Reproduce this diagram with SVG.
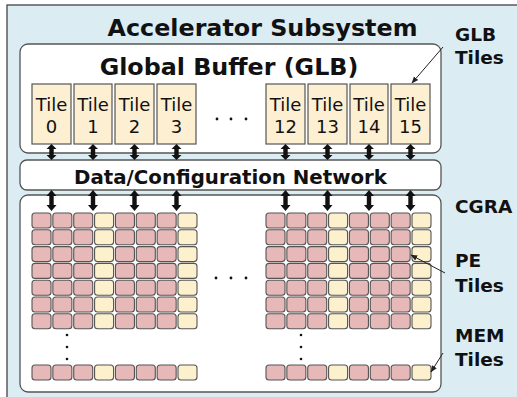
<svg xmlns="http://www.w3.org/2000/svg" width="517" height="397" viewBox="0 0 517 397">
<style>
.box{fill:#ffffff;stroke:#555;stroke-width:1.3}
.tile{fill:#fcefd2;stroke:#555;stroke-width:1.2}
.pe{fill:#e6b8b7;stroke:#555;stroke-width:1.1}
.mem{fill:#fdf0cd;stroke:#555;stroke-width:1.1}
.tt{font-family:"DejaVu Sans",Verdana,sans-serif;font-size:18px;fill:#111;text-anchor:middle}
.b{font-family:"DejaVu Sans",Verdana,sans-serif;font-weight:bold;fill:#111}
.lbl{font-family:"DejaVu Sans",Verdana,sans-serif;font-weight:bold;font-size:18.5px;fill:#111}
.dot{fill:#111}
.thin{stroke:#222;stroke-width:1;fill:none;marker-end:url(#ah)}
</style>
<defs>
<marker id="ah" viewBox="0 0 10 10" refX="9" refY="5" markerWidth="7" markerHeight="7" orient="auto" markerUnits="userSpaceOnUse">
<path d="M0,1 L10,5 L0,9 z" fill="#222"/>
</marker>
<path id="arrA" d="M0,0 L5,5 L2.2,5 L2.2,11 L5,11 L0,16 L-5,11 L-2.2,11 L-2.2,5 L-5,5 z" fill="#111"/>
<path id="arrB" d="M0,0 L5,6 L2.2,6 L2.2,15 L5,15 L0,21 L-5,15 L-2.2,15 L-2.2,6 L-5,6 z" fill="#111"/>
<g id="pecol">
<rect class="pe" x="0" y="213" width="19" height="15" rx="3"/>
<rect class="pe" x="0" y="229.8" width="19" height="15" rx="3"/>
<rect class="pe" x="0" y="246.6" width="19" height="15" rx="3"/>
<rect class="pe" x="0" y="263.4" width="19" height="15" rx="3"/>
<rect class="pe" x="0" y="280.2" width="19" height="15" rx="3"/>
<rect class="pe" x="0" y="297" width="19" height="15" rx="3"/>
<rect class="pe" x="0" y="313.8" width="19" height="15" rx="3"/>
<rect class="pe" x="0" y="365" width="19" height="15" rx="3"/>
</g>
<g id="memcol">
<rect class="mem" x="0" y="213" width="19" height="15" rx="3"/>
<rect class="mem" x="0" y="229.8" width="19" height="15" rx="3"/>
<rect class="mem" x="0" y="246.6" width="19" height="15" rx="3"/>
<rect class="mem" x="0" y="263.4" width="19" height="15" rx="3"/>
<rect class="mem" x="0" y="280.2" width="19" height="15" rx="3"/>
<rect class="mem" x="0" y="297" width="19" height="15" rx="3"/>
<rect class="mem" x="0" y="313.8" width="19" height="15" rx="3"/>
<rect class="mem" x="0" y="365" width="19" height="15" rx="3"/>
</g>
<g id="block">
<use href="#pecol" x="0"/>
<use href="#pecol" x="20.86"/>
<use href="#pecol" x="41.72"/>
<use href="#memcol" x="62.58"/>
<use href="#pecol" x="83.44"/>
<use href="#pecol" x="104.3"/>
<use href="#pecol" x="125.16"/>
<use href="#memcol" x="146"/>
</g>
</defs>

<g id="subsystem">
<rect x="7" y="5" width="530" height="410" fill="#dbecf3" stroke="#444" stroke-width="1.3"/>
<text class="b" x="262.5" y="36" font-size="23.8" text-anchor="middle">Accelerator Subsystem</text>
</g>

<g id="glb">
<rect class="box" x="20" y="44" width="421" height="109" rx="8"/>
<text class="b" x="229" y="75" font-size="23.8" text-anchor="middle">Global Buffer (GLB)</text>
<circle class="dot" cx="217" cy="119" r="1.4"/>
<circle class="dot" cx="231" cy="119" r="1.4"/>
<circle class="dot" cx="246" cy="119" r="1.4"/>
</g>

<g id="tile0"><rect class="tile" x="32" y="84" width="39" height="60"/><text class="tt" x="51.5" y="111">Tile</text><text class="tt" x="51.5" y="133">0</text></g>
<g id="tile1"><rect class="tile" x="74" y="84" width="38" height="60"/><text class="tt" x="93" y="111">Tile</text><text class="tt" x="93" y="133">1</text></g>
<g id="tile2"><rect class="tile" x="115" y="84" width="39" height="60"/><text class="tt" x="134.5" y="111">Tile</text><text class="tt" x="134.5" y="133">2</text></g>
<g id="tile3"><rect class="tile" x="157" y="84" width="39" height="60"/><text class="tt" x="176.5" y="111">Tile</text><text class="tt" x="176.5" y="133">3</text></g>
<g id="tile12"><rect class="tile" x="266" y="84" width="39" height="60"/><text class="tt" x="285.5" y="111">Tile</text><text class="tt" x="285.5" y="133">12</text></g>
<g id="tile13"><rect class="tile" x="308" y="84" width="39" height="60"/><text class="tt" x="327.5" y="111">Tile</text><text class="tt" x="327.5" y="133">13</text></g>
<g id="tile14"><rect class="tile" x="350" y="84" width="38" height="60"/><text class="tt" x="369" y="111">Tile</text><text class="tt" x="369" y="133">14</text></g>
<g id="tile15"><rect class="tile" x="391" y="84" width="39" height="60"/><text class="tt" x="410.5" y="111">Tile</text><text class="tt" x="410.5" y="133">15</text></g>

<g id="network">
<rect class="box" x="20" y="160" width="421" height="30" rx="7"/>
<text class="b" x="230.5" y="184" font-size="19.8" text-anchor="middle">Data/Configuration Network</text>
</g>

<g id="cgra">
<rect class="box" x="20" y="195" width="421" height="197" rx="8"/>
<use href="#block" x="32"/>
<use href="#block" x="266"/>
<circle class="dot" cx="216" cy="278" r="1.4"/>
<circle class="dot" cx="231" cy="278" r="1.4"/>
<circle class="dot" cx="246" cy="278" r="1.4"/>
<circle class="dot" cx="67" cy="335" r="1.3"/>
<circle class="dot" cx="67" cy="347" r="1.3"/>
<circle class="dot" cx="67" cy="359" r="1.3"/>
<circle class="dot" cx="301" cy="335" r="1.3"/>
<circle class="dot" cx="301" cy="347" r="1.3"/>
<circle class="dot" cx="301" cy="359" r="1.3"/>
</g>

<g id="labels">
<text class="lbl" x="455" y="41">GLB</text>
<text class="lbl" x="455" y="64">Tiles</text>
<text class="lbl" x="455" y="213">CGRA</text>
<text class="lbl" x="455" y="267">PE</text>
<text class="lbl" x="455" y="292">Tiles</text>
<text class="lbl" x="455" y="342">MEM</text>
<text class="lbl" x="455" y="366">Tiles</text>
</g>

<g id="connectors">
<use href="#arrA" x="51.5" y="144"/>
<use href="#arrA" x="93" y="144"/>
<use href="#arrA" x="134.5" y="144"/>
<use href="#arrA" x="176.5" y="144"/>
<use href="#arrA" x="285.5" y="144"/>
<use href="#arrA" x="327.5" y="144"/>
<use href="#arrA" x="369" y="144"/>
<use href="#arrA" x="410.5" y="144"/>
<use href="#arrB" x="51.5" y="190"/>
<use href="#arrB" x="93" y="190"/>
<use href="#arrB" x="134.5" y="190"/>
<use href="#arrB" x="176.5" y="190"/>
<use href="#arrB" x="285.5" y="190"/>
<use href="#arrB" x="327.5" y="190"/>
<use href="#arrB" x="369" y="190"/>
<use href="#arrB" x="410.5" y="190"/>
<path class="thin" d="M443,47 L412,83"/>
<path class="thin" d="M445,273 L411,255"/>
<path class="thin" d="M443,353 L431,372"/>
</g>
</svg>
